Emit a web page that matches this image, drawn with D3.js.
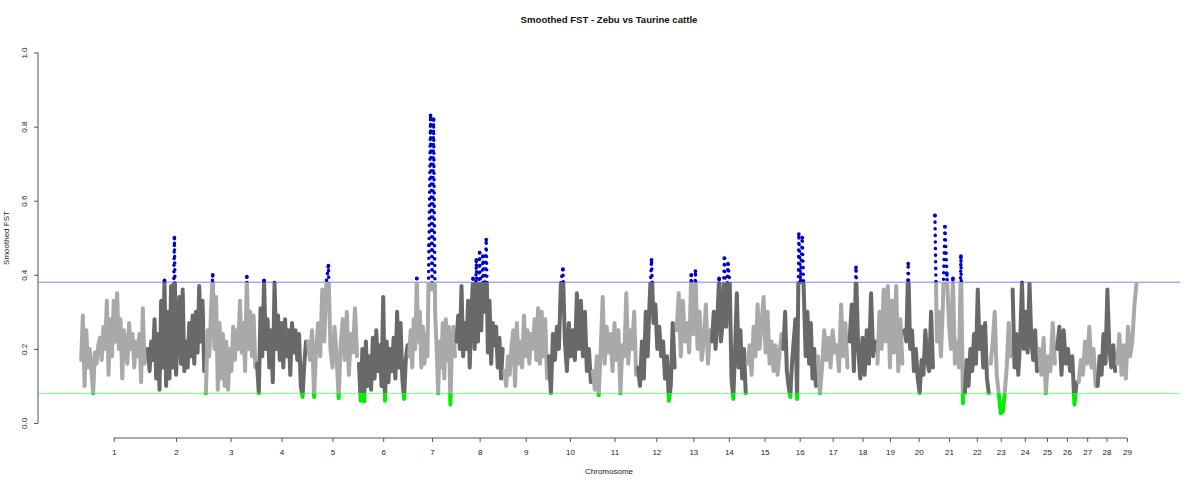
<!DOCTYPE html>
<html>
<head>
<meta charset="utf-8">
<script src="https://cdn.jsdelivr.net/npm/d3@7/dist/d3.min.js"></script>
<style>
  body { margin: 0; background: #fff; }
  svg { font-family: "Liberation Sans", Arial, sans-serif; }
</style>
</head>
<body>
<svg id="chart" width="1200" height="486"></svg>
<script>
// chromosome names and lengths (Mb)
const chromosomes = d3.range(1, 30).map(String);
const chromLengths = [158, 137, 121, 120, 121, 119, 112, 113, 105, 104, 107, 91, 84, 84, 85,
    81, 75, 66, 64, 72, 71, 61, 52, 62, 43, 51, 45, 46, 51];

// thresholds
const upperCut = 0.38;
const lowerCut = 0.08;

const yTicks = [0, 0.2, 0.4, 0.6, 0.8, 1.0];

// smoothed FST values along each chromosome
const fst1 = [0.17, 0.29, 0.10, 0.25, 0.15, 0.20, 0.14, 0.08, 0.19, 0.16, 0.21, 0.23, 0.17, 0.26, 0.20, 0.33, 0.13, 0.28, 0.18, 0.33, 0.22, 0.35, 0.20, 0.28, 0.12, 0.25, 0.21, 0.16, 0.27, 0.20, 0.24, 0.15, 0.22, 0.18, 0.24, 0.11, 0.31, 0.16, 0.20];
const fst2 = [0.20, 0.14, 0.22, 0.17, 0.28, 0.12, 0.24, 0.09, 0.33, 0.15, 0.385, 0.10, 0.30, 0.12, 0.37, 0.15, 0.50, 0.13, 0.25, 0.34, 0.16, 0.36, 0.14, 0.22, 0.15, 0.27, 0.18, 0.29, 0.16, 0.30, 0.19, 0.37, 0.22, 0.33, 0.14];
const fst3 = [0.08, 0.25, 0.18, 0.30, 0.40, 0.20, 0.34, 0.09, 0.27, 0.12, 0.24, 0.10, 0.22, 0.09, 0.20, 0.14, 0.26, 0.17, 0.25, 0.20, 0.33, 0.19, 0.27, 0.14, 0.395, 0.20, 0.30, 0.18, 0.29, 0.15];
const fst4 = [0.16, 0.08, 0.31, 0.18, 0.385, 0.20, 0.28, 0.15, 0.25, 0.11, 0.38, 0.20, 0.29, 0.17, 0.27, 0.15, 0.28, 0.18, 0.25, 0.13, 0.27, 0.19, 0.25, 0.17, 0.24, 0.10, 0.07, 0.16, 0.22];
const fst5 = [0.22, 0.17, 0.25, 0.07, 0.20, 0.27, 0.18, 0.36, 0.22, 0.38, 0.425, 0.20, 0.15, 0.26, 0.18, 0.067, 0.21, 0.28, 0.17, 0.30, 0.13, 0.24, 0.19, 0.31, 0.18];
const fst6 = [0.16, 0.06, 0.20, 0.058, 0.22, 0.10, 0.18, 0.09, 0.23, 0.12, 0.25, 0.14, 0.21, 0.10, 0.34, 0.06, 0.22, 0.11, 0.20, 0.14, 0.23, 0.12, 0.30, 0.15, 0.27, 0.12, 0.065, 0.17, 0.21];
const fst7 = [0.18, 0.25, 0.15, 0.28, 0.20, 0.39, 0.22, 0.30, 0.15, 0.26, 0.16, 0.24, 0.18, 0.48, 0.83, 0.36, 0.82, 0.30, 0.20, 0.08, 0.22, 0.15, 0.27, 0.12, 0.28, 0.17, 0.26, 0.05, 0.20, 0.26, 0.18];
const fst8 = [0.22, 0.29, 0.20, 0.37, 0.18, 0.27, 0.20, 0.33, 0.15, 0.30, 0.39, 0.20, 0.44, 0.22, 0.46, 0.25, 0.45, 0.30, 0.495, 0.19, 0.33, 0.16, 0.27, 0.21, 0.26, 0.15, 0.23, 0.12, 0.20];
const fst9 = [0.14, 0.10, 0.18, 0.13, 0.21, 0.25, 0.10, 0.27, 0.16, 0.22, 0.15, 0.29, 0.18, 0.25, 0.16, 0.24, 0.20, 0.28, 0.17, 0.31, 0.16, 0.30, 0.18, 0.28, 0.12];
const fst10 = [0.18, 0.08, 0.24, 0.17, 0.26, 0.20, 0.38, 0.415, 0.22, 0.14, 0.27, 0.18, 0.25, 0.17, 0.35, 0.20, 0.33, 0.18, 0.30, 0.14, 0.20, 0.11];
const fst11 = [0.14, 0.09, 0.18, 0.075, 0.20, 0.34, 0.16, 0.26, 0.19, 0.24, 0.14, 0.27, 0.17, 0.25, 0.08, 0.21, 0.18, 0.35, 0.16, 0.25, 0.20, 0.30, 0.13];
const fst12 = [0.15, 0.10, 0.22, 0.12, 0.30, 0.18, 0.33, 0.44, 0.27, 0.32, 0.20, 0.26, 0.18, 0.22, 0.12, 0.18, 0.06, 0.10, 0.27, 0.15];
const fst13 = [0.25, 0.35, 0.18, 0.33, 0.22, 0.27, 0.19, 0.40, 0.24, 0.41, 0.20, 0.30, 0.17, 0.22, 0.32, 0.16, 0.25];
const fst14 = [0.22, 0.30, 0.20, 0.28, 0.39, 0.22, 0.27, 0.445, 0.26, 0.43, 0.38, 0.12, 0.065, 0.20, 0.35, 0.15, 0.25, 0.12, 0.20, 0.08];
const fst15 = [0.16, 0.21, 0.13, 0.26, 0.18, 0.32, 0.20, 0.27, 0.34, 0.19, 0.30, 0.16, 0.22, 0.14, 0.21, 0.13, 0.19, 0.24];
const fst16 = [0.20, 0.30, 0.14, 0.10, 0.07, 0.16, 0.22, 0.28, 0.065, 0.51, 0.38, 0.50, 0.34, 0.18, 0.30, 0.16, 0.27, 0.12, 0.20, 0.10];
const fst17 = [0.18, 0.08, 0.15, 0.25, 0.17, 0.23, 0.15, 0.25, 0.19, 0.21, 0.14, 0.32, 0.18, 0.27, 0.15];
const fst18 = [0.22, 0.32, 0.14, 0.42, 0.20, 0.12, 0.23, 0.13, 0.25, 0.16, 0.35, 0.18, 0.22];
const fst19 = [0.16, 0.30, 0.20, 0.36, 0.22, 0.37, 0.15, 0.33, 0.19, 0.37, 0.14, 0.28, 0.16];
const fst20 = [0.25, 0.22, 0.43, 0.20, 0.25, 0.14, 0.20, 0.12, 0.08, 0.17, 0.13, 0.25, 0.17, 0.14, 0.30, 0.15];
const fst21 = [0.56, 0.22, 0.30, 0.18, 0.32, 0.53, 0.40, 0.27, 0.20, 0.39, 0.16, 0.22, 0.15, 0.45, 0.053];
const fst22 = [0.08, 0.17, 0.10, 0.20, 0.14, 0.24, 0.16, 0.36, 0.20, 0.26, 0.15, 0.27, 0.12, 0.08];
const fst23 = [0.16, 0.22, 0.30, 0.13, 0.08, 0.026, 0.03, 0.08, 0.15, 0.27, 0.18];
const fst24 = [0.36, 0.15, 0.24, 0.13, 0.22, 0.38, 0.20, 0.30, 0.19, 0.38, 0.22, 0.17, 0.25, 0.14];
const fst25 = [0.20, 0.13, 0.23, 0.08, 0.18, 0.14, 0.27, 0.16];
const fst26 = [0.20, 0.26, 0.13, 0.25, 0.16, 0.20, 0.14, 0.18, 0.05, 0.11];
const fst27 = [0.11, 0.17, 0.13, 0.22, 0.16, 0.26, 0.15, 0.20, 0.10];
const fst28 = [0.10, 0.18, 0.13, 0.24, 0.16, 0.36, 0.20, 0.15, 0.21, 0.14];
const fst29 = [0.16, 0.24, 0.13, 0.21, 0.12, 0.26, 0.18, 0.22, 0.32, 0.38];

const fstByChrom = [fst1, fst2, fst3, fst4, fst5, fst6, fst7, fst8, fst9, fst10, fst11, fst12, fst13, fst14, fst15,
    fst16, fst17, fst18, fst19, fst20, fst21, fst22, fst23, fst24, fst25, fst26, fst27, fst28, fst29];

const svg = d3.select("#chart");

// cumulative start of each chromosome
const starts = [];
let total = 0;
chromLengths.forEach(l => { starts.push(total); total += l; });

// R style plot region: data range padded by 4%
const x = d3.scaleLinear()
    .domain([-0.04 * total, total * 1.04])
    .range([38, 1180]);

const y = d3.scaleLinear()
    .domain([-0.04, 1.04])
    .range([437.8, 37.7]);

const lightGrey = "#a9a9a9",
    darkGrey = "#696969";

// clip regions for colouring by threshold
const defs = svg.append("defs");
defs.append("clipPath").attr("id", "clipMid")
    .append("rect")
    .attr("x", 0).attr("width", 1200)
    .attr("y", y(upperCut)).attr("height", y(lowerCut) - y(upperCut));
defs.append("clipPath").attr("id", "clipHigh")
    .append("rect")
    .attr("x", 0).attr("width", 1200)
    .attr("y", 0).attr("height", y(upperCut));
defs.append("clipPath").attr("id", "clipLow")
    .append("rect")
    .attr("x", 0).attr("width", 1200)
    .attr("y", y(lowerCut)).attr("height", 486 - y(lowerCut));

const line = d3.line()
    .x(d => x(d.pos))
    .y(d => y(d.fst));

const series = fstByChrom.map((vals, ci) => {
    const n = vals.length;
    return vals.map((v, i) => ({
        pos: starts[ci] + (i + 0.5) / n * chromLengths[ci],
        fst: v
    }));
});

// threshold lines
svg.append("line")
    .attr("x1", 38).attr("x2", 1180)
    .attr("y1", y(upperCut)).attr("y2", y(upperCut))
    .attr("stroke", "#7f7fff")
    .attr("stroke-width", 1);

svg.append("line")
    .attr("x1", 38).attr("x2", 1180)
    .attr("y1", y(lowerCut)).attr("y2", y(lowerCut))
    .attr("stroke", "#7fff7f")
    .attr("stroke-width", 1);

// grey trace
svg.append("g")
    .attr("clip-path", "url(#clipMid)")
    .selectAll("path")
    .data(series)
    .enter().append("path")
    .attr("d", line)
    .attr("fill", "none")
    .attr("stroke", (d, i) => i % 2 === 0 ? lightGrey : darkGrey)
    .attr("stroke-width", 4)
    .attr("stroke-linejoin", "round")
    .attr("stroke-linecap", "round");

// above upper threshold: blue dots
svg.append("g")
    .attr("clip-path", "url(#clipHigh)")
    .selectAll("path")
    .data(series)
    .enter().append("path")
    .attr("d", line)
    .attr("fill", "none")
    .attr("stroke", "#0000cd")
    .attr("stroke-width", 3.5)
    .attr("stroke-dasharray", "0.1 6.5")
    .attr("stroke-linecap", "round");

// outlier windows themselves
const highPts = series.flat().filter(d => d.fst > upperCut);
svg.append("g")
    .selectAll("circle")
    .data(highPts)
    .enter().append("circle")
    .attr("cx", d => x(d.pos))
    .attr("cy", d => y(d.fst))
    .attr("r", 1.9)
    .attr("fill", "#0000cd");

// below lower threshold: green
svg.append("g")
    .attr("clip-path", "url(#clipLow)")
    .selectAll("path")
    .data(series)
    .enter().append("path")
    .attr("d", line)
    .attr("fill", "none")
    .attr("stroke", "#00ee00")
    .attr("stroke-width", 4)
    .attr("stroke-linejoin", "round")
    .attr("stroke-linecap", "round");

// y axis
const yAxis = d3.axisLeft(y)
    .tickValues(yTicks)
    .tickFormat(d3.format(".1f"))
    .tickSize(4)
    .tickSizeOuter(0);

const gy = svg.append("g")
    .attr("transform", "translate(38,0)")
    .call(yAxis);
gy.select(".domain").attr("stroke", "#555").attr("d", `M0,${y(0)}V${y(1)}`);
gy.selectAll(".tick line").attr("stroke", "#555");
gy.selectAll(".tick text")
    .attr("font-size", 8)
    .attr("fill", "#222")
    .attr("text-anchor", "middle")
    .attr("transform", "rotate(-90)")
    .attr("x", 0)
    .attr("y", -11)
    .attr("dy", 0);

// x axis at chromosome midpoints
const mids = chromLengths.map((l, i) => starts[i] + l / 2);
const xAxis = d3.axisBottom(x)
    .tickValues(mids)
    .tickFormat((d, i) => chromosomes[i])
    .tickSize(4)
    .tickSizeOuter(0);

const gx = svg.append("g")
    .attr("transform", "translate(0,438)")
    .call(xAxis);
gx.select(".domain").attr("stroke", "#555")
    .attr("d", `M${x(mids[0])},0H${x(mids[mids.length - 1])}`);
gx.selectAll(".tick line").attr("stroke", "#555");
gx.selectAll(".tick text")
    .attr("font-size", 8)
    .attr("fill", "#222")
    .attr("y", 17)
    .attr("dy", 0);

// labels
svg.append("text")
    .attr("x", 609).attr("y", 23)
    .attr("text-anchor", "middle")
    .attr("font-size", 9.6)
    .attr("font-weight", "bold")
    .attr("fill", "#111")
    .text("Smoothed FST - Zebu vs Taurine cattle");

svg.append("text")
    .attr("x", 609).attr("y", 474)
    .attr("text-anchor", "middle")
    .attr("font-size", 8)
    .attr("fill", "#222")
    .text("Chromosome");

svg.append("text")
    .attr("transform", "translate(9,238) rotate(-90)")
    .attr("text-anchor", "middle")
    .attr("font-size", 8)
    .attr("fill", "#222")
    .text("Smoothed FST");
</script>
</body>
</html>
